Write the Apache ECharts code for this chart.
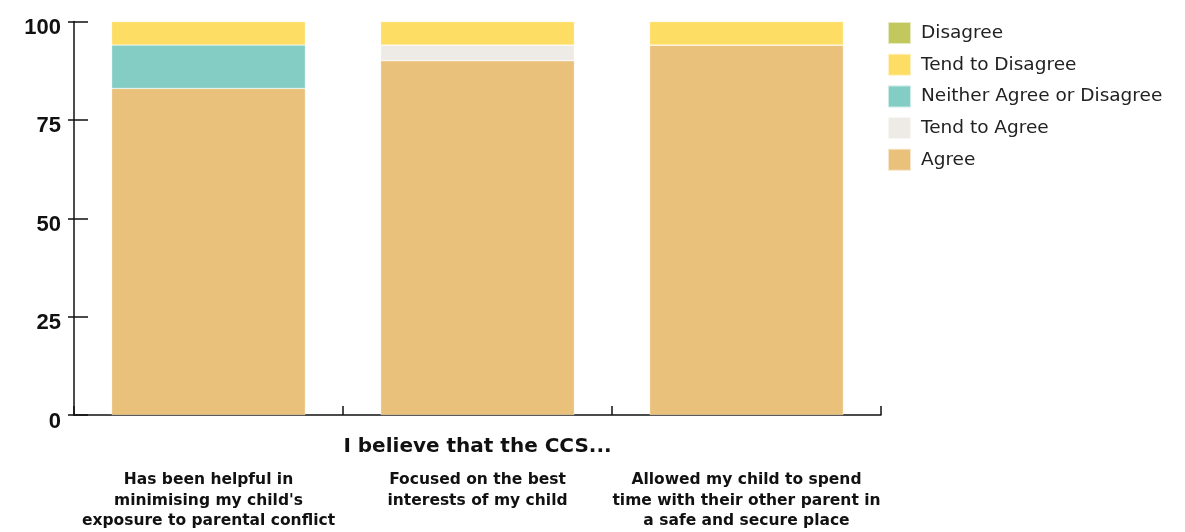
<!DOCTYPE html>
<html><head><meta charset="utf-8">
<script src="https://cdn.jsdelivr.net/npm/echarts@6/dist/echarts.min.js"></script>
<style>html,body{margin:0;padding:0;background:#fff}#c{width:1185px;height:532px}</style>
</head><body><div id="c"></div>
<script>
const categories = [
  "Has been helpful in\nminimising my child's\nexposure to parental conflict",
  "Focused on the best\ninterests of my child",
  "Allowed my child to spend\ntime with their other parent in\na safe and secure place"
];
const agree = [83, 90, 94];
const tendToAgree = [0, 4, 0];
const neither = [11, 0, 0];
const tendToDisagree = [6, 6, 6];
const disagree = [0, 0, 0];
const yTicks = [0, 25, 50, 75, 100];
const axisName = "I believe that the CCS...";

const FONT = "DejaVu Sans";
const chart = echarts.init(document.getElementById('c'));
function s(name, data, color) {
  return { name, type: 'bar', stack: 'all', data, barWidth: '72%', yAxisIndex: 0,
    itemStyle: { color, borderColor: 'rgba(255,255,255,0.6)', borderWidth: 0.5 }, emphasis: { disabled: true } };
}
const yMin = yTicks[0], yMax = yTicks[yTicks.length - 1], yStep = yTicks[1] - yTicks[0];
chart.setOption({
  animation: false,
  textStyle: { fontFamily: FONT },
  grid: { left: 74, right: 304, top: 21.5, bottom: 117, containLabel: false, outerBoundsMode: 'none' },
  legend: {
    orient: 'vertical', left: 882, top: 16, itemWidth: 23, itemHeight: 22, itemGap: 7.7,
    data: ['Disagree', 'Tend to Disagree', 'Neither Agree or Disagree', 'Tend to Agree', 'Agree'],
    textStyle: { fontFamily: FONT, fontSize: 18.5, color: '#222', padding: [0, 0, 0, 5] },
    icon: 'rect', selectedMode: false
  },
  xAxis: {
    type: 'category', data: categories,
    name: axisName, nameLocation: 'middle', nameGap: 22, nameMoveOverlap: false,
    nameTextStyle: { fontFamily: FONT, fontWeight: 'bold', fontSize: 20, color: '#111', verticalAlign: 'top' },
    axisLine: { lineStyle: { color: '#111', width: 1.5 } },
    axisTick: { show: true, interval: 0, inside: true, length: 9, lineStyle: { color: '#111', width: 1.5 } },
    axisLabel: { margin: 55, fontFamily: FONT, fontWeight: 'bold', fontSize: 15.5, color: '#111', lineHeight: 20.5, interval: 0 }
  },
  yAxis: [{
    type: 'value', min: yMin, max: yMax, interval: yStep,
    axisLine: { show: true, lineStyle: { color: '#111', width: 1.5 } },
    axisTick: { show: true, inside: true, length: 14, lineStyle: { color: '#111', width: 1.5 } },
    splitLine: { show: false },
    axisLabel: { margin: 13, fontFamily: 'Liberation Sans', fontWeight: 'bold', fontSize: 22, color: '#111', verticalAlign: 'top', lineHeight: 13 }
  }, {
    type: 'value', min: yMin, max: yMax, interval: yStep, position: 'left',
    axisLine: { show: false },
    axisTick: { show: true, inside: false, length: 6, lineStyle: { color: '#111', width: 1.5 } },
    splitLine: { show: false },
    axisLabel: { show: false }
  }],
  series: [
    s('Agree', agree, '#EAC17A'),
    s('Tend to Agree', tendToAgree, '#EEEBE7'),
    s('Neither Agree or Disagree', neither, '#83CDC4'),
    s('Tend to Disagree', tendToDisagree, '#FEDD64'),
    s('Disagree', disagree, '#C2C75E')
  ]
});
</script></body></html>
